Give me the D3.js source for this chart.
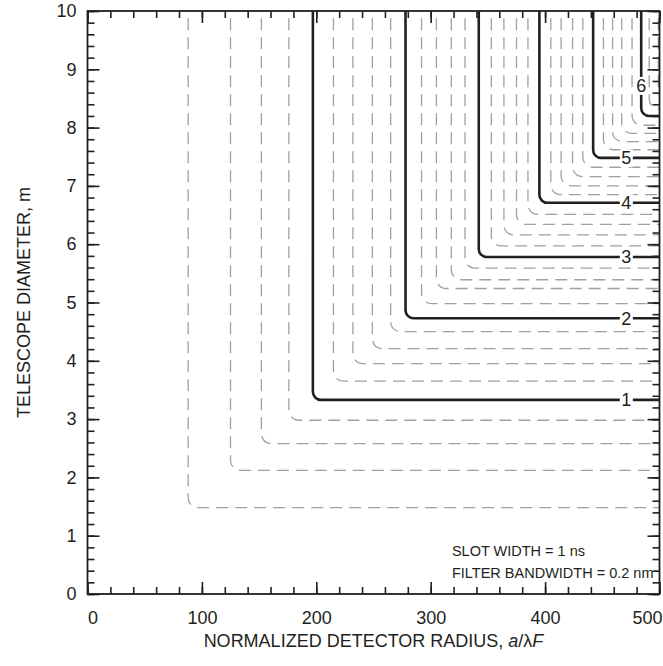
<!DOCTYPE html>
<html><head><meta charset="utf-8">
<script src="https://cdn.jsdelivr.net/npm/d3@7"></script>
<style>body{margin:0;background:#fff}</style>
</head><body>
<svg id="chart" width="663" height="666"></svg>
<script>
// contour levels (solid at integers, dashed in between)
const levels = [0.2,0.4,0.6,0.8,1.0, 1.2,1.4,1.6,1.8,2.0, 2.2,2.4,2.6,2.8,3.0, 3.2,3.4,3.6,3.8,4.0, 4.2,4.4,4.6,4.8,5.0, 5.2,5.4,5.6,5.8,6.0, 6.2,6.4];
// normalized detector radius where each contour turns vertical
const radiusAt = [88,125,152,176,197, 215,232,249,265,278, 292,305,318,330,342, 353,364,375,385,395, 405,414,424,433,442, 451,459,467,476,484, 491,499];
// telescope diameter (m) where each contour turns horizontal
const diameterAt = [1.48,2.12,2.58,2.98,3.33, 3.65,3.95,4.21,4.50,4.73, 4.98,5.24,5.39,5.59,5.78, 5.97,6.16,6.34,6.51,6.71, 6.85,7.00,7.16,7.32,7.48, 7.62,7.76,7.90,8.04,8.20, 8.32,8.45];
const labeledLevels = [1,2,3,4,5,6];
const xTicks = [0,100,200,300,400,500];
const yTicks = [0,1,2,3,4,5,6,7,8,9,10];
const xMinor = d3.range(0,501,20);
const yMinor = d3.range(0,10.01,0.2);
const noteLines = ['SLOT WIDTH = 1 ns', 'FILTER BANDWIDTH = 0.2 nm'];

const svg = d3.select('#chart');
const W = 663, H = 666;
const m = {l:87.5, r:659.5, t:11, b:594};
const x = d3.scaleLinear().domain([0,500]).range([m.l, m.r]);
const y = d3.scaleLinear().domain([0,10]).range([m.b, m.t]);
const font = "'Liberation Sans', Arial, Helvetica, sans-serif";
const ink = '#231f20';
const fs = 18;

svg.append('defs').append('clipPath').attr('id','clip')
  .append('rect').attr('x',m.l).attr('y',m.t).attr('width',m.r-m.l).attr('height',m.b-m.t);

const g = svg.append('g').attr('clip-path','url(#clip)');

function contourPath(r, d, rad){
  const p = d3.path();
  p.moveTo(x(r), y(10.2));
  p.arcTo(x(r), y(d), x(520), y(d), rad);
  p.lineTo(x(520), y(d));
  return p.toString();
}

const isSolid = l => Math.abs(l - Math.round(l)) < 1e-6;

levels.forEach((l,i) => {
  const solid = isSolid(l);
  g.append('path')
    .attr('d', contourPath(radiusAt[i], diameterAt[i], solid ? 8 : 10))
    .attr('fill','none')
    .attr('stroke', solid ? ink : '#a0a0a0')
    .attr('stroke-width', solid ? 2.6 : 1.3)
    .attr('stroke-dasharray', solid ? null : '12,7');
});

// contour labels
labeledLevels.forEach(l => {
  const i = levels.findIndex(v => Math.abs(v-l)<1e-6);
  let lx, ly;
  if (l < 6) { lx = x(471); ly = y(diameterAt[i]); }
  else { lx = x(radiusAt[i]); ly = y(8.72); }
  const t = svg.append('text').attr('x',lx).attr('y',ly).attr('dy','0.35em')
    .attr('text-anchor','middle').attr('font-family',font).attr('font-size',fs)
    .attr('fill',ink).text(l);
  const bb = t.node().getBBox();
  svg.insert('rect', () => t.node()).attr('x',bb.x-1.5).attr('y',bb.y+1).attr('width',bb.width+3).attr('height',bb.height-2).attr('fill','#fff');
});

// axes
function styleAxis(sel){
  sel.select('.domain').remove();
  sel.selectAll('line').attr('stroke',ink).attr('stroke-width',1.6);
  sel.selectAll('text').attr('font-family',font).attr('font-size',fs).attr('fill',ink);
}
const major = 12, minor = 7;
svg.append('g').attr('transform',`translate(0,${m.b})`)
  .call(d3.axisBottom(x).tickValues(xMinor).tickSize(-minor).tickFormat('')).call(styleAxis);
svg.append('g').attr('transform',`translate(0,${m.b})`)
  .call(d3.axisBottom(x).tickValues(xTicks).tickSize(-major).tickFormat(d3.format('d'))).call(styleAxis)
  .selectAll('.tick text').attr('dy','0.71em').attr('y',17)
  .attr('text-anchor', d => d===500 ? 'end' : 'middle')
  .attr('x', d => d===500 ? W - 1 - x(500) : (d===0 ? 5 : 0));
svg.append('g').attr('transform',`translate(0,${m.t})`)
  .call(d3.axisTop(x).tickValues(xMinor).tickSize(-minor).tickFormat('')).call(styleAxis);
svg.append('g').attr('transform',`translate(0,${m.t})`)
  .call(d3.axisTop(x).tickValues(xTicks).tickSize(-major).tickFormat('')).call(styleAxis);

svg.append('g').attr('transform',`translate(${m.l},0)`)
  .call(d3.axisLeft(y).tickValues(yMinor).tickSize(-minor).tickFormat('')).call(styleAxis);
svg.append('g').attr('transform',`translate(${m.l},0)`)
  .call(d3.axisLeft(y).tickValues(yTicks).tickSize(-major).tickPadding(11).tickFormat(d3.format('d'))).call(styleAxis);
svg.append('g').attr('transform',`translate(${m.r},0)`)
  .call(d3.axisRight(y).tickValues(yMinor).tickSize(-minor).tickFormat('')).call(styleAxis);
svg.append('g').attr('transform',`translate(${m.r},0)`)
  .call(d3.axisRight(y).tickValues(yTicks).tickSize(-major).tickFormat('')).call(styleAxis);

// frame
svg.append('rect').attr('x',m.l).attr('y',m.t).attr('width',m.r-m.l).attr('height',m.b-m.t)
  .attr('fill','none').attr('stroke',ink).attr('stroke-width',1.8);

// annotation: lines share a left edge; the longer line ends just inside the frame
const ann = svg.append('text').attr('font-family',font).attr('font-size',14.5).attr('fill',ink);
const spans = noteLines.map((s,k) => ann.append('tspan').attr('y', y(k===0 ? 0.66 : 0.27)).text(s));
const longest = d3.max(spans, s => s.node().getComputedTextLength());
spans.forEach(s => s.attr('x', m.r - 6 - longest));

// axis titles
const xt = svg.append('text').attr('x',(m.l+m.r)/2).attr('y',647).attr('text-anchor','middle')
  .attr('font-family',font).attr('font-size',fs).attr('fill',ink);
xt.append('tspan').text('NORMALIZED DETECTOR RADIUS, ');
xt.append('tspan').attr('font-style','italic').text('a');
xt.append('tspan').text('/λ');
xt.append('tspan').attr('font-style','italic').text('F');

svg.append('text').attr('transform',`translate(30,${(m.t+m.b)/2}) rotate(-90)`)
  .attr('text-anchor','middle').attr('font-family',font).attr('font-size',fs).attr('fill',ink)
  .text('TELESCOPE DIAMETER, m');
</script>
</body></html>
